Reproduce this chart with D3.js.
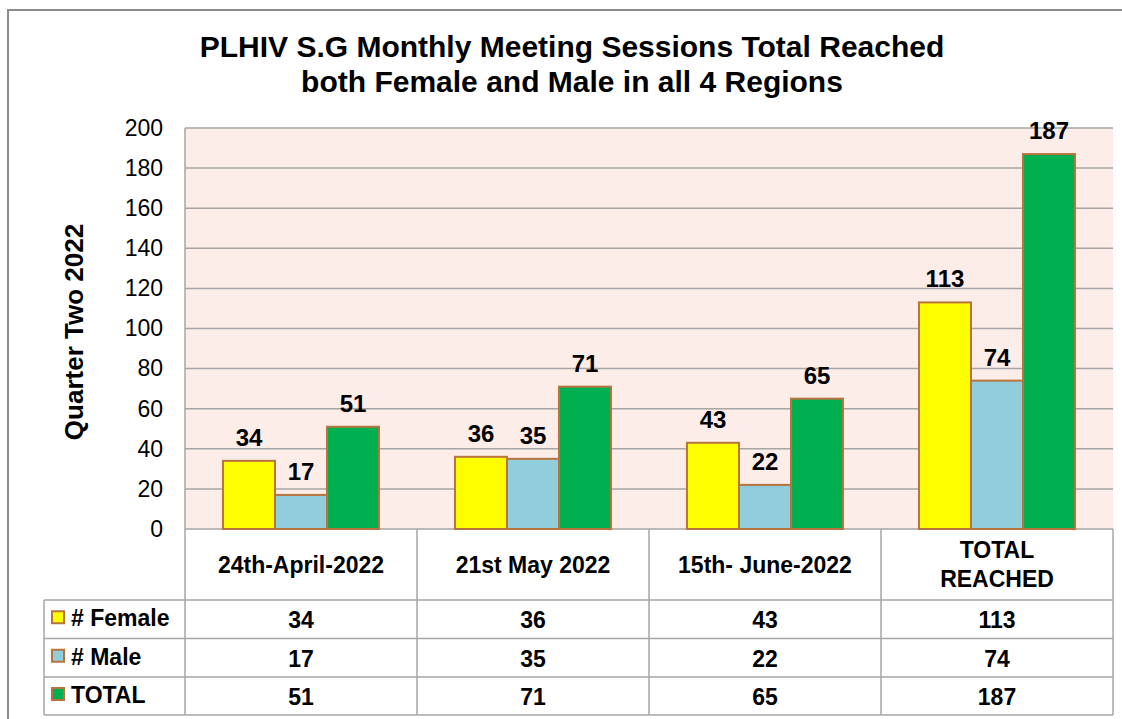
<!DOCTYPE html>
<html>
<head>
<meta charset="utf-8">
<script src="https://cdn.jsdelivr.net/npm/d3@7"></script>
<style>
  html, body { margin: 0; padding: 0; background: #ffffff; }
  svg { display: block; font-family: "Liberation Sans", Arial, sans-serif; }
</style>
</head>
<body>
<svg id="chart" width="1122" height="719"></svg>
<script>
const categories = ["24th-April-2022", "21st May 2022", "15th- June-2022", "TOTAL REACHED"];
const categoryLines = [["24th-April-2022"], ["21st May 2022"], ["15th- June-2022"], ["TOTAL", "REACHED"]];
const seriesNames = ["# Female", "# Male", "TOTAL"];
const femaleValues = [34, 36, 43, 113];
const maleValues = [17, 35, 22, 74];
const totalValues = [51, 71, 65, 187];
const yTicks = [0, 20, 40, 60, 80, 100, 120, 140, 160, 180, 200];
const titleLines = ["PLHIV S.G Monthly Meeting Sessions Total Reached", "both Female and Male in all 4 Regions"];
const yAxisTitle = "Quarter Two 2022";
const seriesColors = ["#ffff00", "#92cddc", "#00b050"];

const seriesValues = [femaleValues, maleValues, totalValues];

const svg = d3.select("#chart");
const plot = { left: 185, right: 1113, top: 128, bottom: 529 };
const tableRows = [600, 638.5, 677, 715];
const tableLeft = 44;
const gridColor = "#a6a6a6";
const barStroke = "#b9733f";

// outer frame
svg.append("path")
  .attr("d", "M8,719 L8,10 L1122,10")
  .attr("fill", "none").attr("stroke", "#8c8c8c").attr("stroke-width", 2);

// title
svg.append("g").selectAll("text").data(titleLines).join("text")
  .attr("x", 572).attr("y", (d, i) => 57 + i * 35)
  .attr("text-anchor", "middle")
  .attr("font-size", 30).attr("font-weight", "bold").attr("fill", "#000")
  .text(d => d);

const x0 = d3.scaleBand().domain(categories).range([plot.left, plot.right]).paddingInner(0).paddingOuter(0);
const x1 = d3.scaleBand().domain(seriesNames).range([0, x0.bandwidth()]).paddingInner(0).paddingOuter(0.73);
const y = d3.scaleLinear().domain([0, 200]).range([plot.bottom, plot.top]);

// plot background
svg.append("rect")
  .attr("x", plot.left).attr("y", plot.top)
  .attr("width", plot.right - plot.left).attr("height", plot.bottom - plot.top)
  .attr("fill", "#fcede8");

// gridlines
svg.append("g").selectAll("line").data(yTicks).join("line")
  .attr("x1", plot.left).attr("x2", plot.right)
  .attr("y1", d => y(d)).attr("y2", d => y(d))
  .attr("stroke", gridColor).attr("stroke-width", 1.5);

// y axis
const yAxis = d3.axisLeft(y).tickValues(yTicks).tickSize(0).tickPadding(22);
const yg = svg.append("g").attr("transform", `translate(${plot.left},0)`).call(yAxis);
yg.select(".domain").remove();
yg.selectAll("text").attr("font-size", 23).attr("font-family", "'Liberation Sans', Arial, sans-serif").attr("fill", "#000");

// y axis title
svg.append("text")
  .attr("transform", "translate(83,332) rotate(-90)")
  .attr("text-anchor", "middle")
  .attr("font-size", 26).attr("font-weight", "bold")
  .text(yAxisTitle);

// bars
const groups = svg.append("g").selectAll("g").data(categories).join("g")
  .attr("transform", d => `translate(${x0(d)},0)`);

groups.selectAll("rect")
  .data((c, ci) => seriesNames.map((s, si) => ({ s, si, v: seriesValues[si][ci] })))
  .join("rect")
  .attr("x", d => x1(d.s)).attr("width", x1.bandwidth())
  .attr("y", d => y(d.v)).attr("height", d => y(0) - y(d.v))
  .attr("fill", d => seriesColors[d.si])
  .attr("stroke", barStroke).attr("stroke-width", 2);

groups.selectAll("text.val")
  .data((c, ci) => seriesNames.map((s, si) => ({ s, si, v: seriesValues[si][ci] })))
  .join("text").attr("class", "val")
  .attr("x", d => x1(d.s) + x1.bandwidth() / 2)
  .attr("y", d => y(d.v) - 15)
  .attr("text-anchor", "middle")
  .attr("font-size", 24).attr("font-weight", "bold")
  .text(d => d.v);

// data table
const tg = svg.append("g");
const colEdges = categories.map(c => x0(c)).concat([plot.right]);
tg.selectAll("line.v").data(colEdges).join("line").attr("class", "v")
  .attr("x1", d => d).attr("x2", d => d)
  .attr("y1", (d, i) => (i === 0 ? plot.top : plot.bottom)).attr("y2", tableRows[3])
  .attr("stroke", gridColor).attr("stroke-width", 1.5);
tg.append("line")
  .attr("x1", tableLeft).attr("x2", tableLeft).attr("y1", tableRows[0]).attr("y2", tableRows[3])
  .attr("stroke", gridColor).attr("stroke-width", 1.5);
tg.selectAll("line.h").data(tableRows).join("line").attr("class", "h")
  .attr("x1", tableLeft).attr("x2", plot.right)
  .attr("y1", d => d).attr("y2", d => d)
  .attr("stroke", gridColor).attr("stroke-width", 1.5);

// header category labels
categories.forEach((c, ci) => {
  const lines = categoryLines[ci];
  const cx = x0(c) + x0.bandwidth() / 2;
  const t = tg.append("text").attr("text-anchor", "middle")
    .attr("font-size", 23).attr("font-weight", "bold");
  lines.forEach((ln, li) => {
    t.append("tspan").attr("x", cx)
      .attr("y", lines.length === 1 ? 573 : 558 + li * 29)
      .text(ln);
  });
});

// rows
seriesNames.forEach((s, si) => {
  const rowTop = tableRows[si], rowBot = tableRows[si + 1];
  const cy = (rowTop + rowBot) / 2;
  tg.append("rect")
    .attr("x", 52).attr("y", cy - 8).attr("width", 12).attr("height", 12)
    .attr("fill", seriesColors[si]).attr("stroke", barStroke).attr("stroke-width", 2);
  tg.append("text").attr("x", 71).attr("y", cy + 7)
    .attr("font-size", 23).attr("font-weight", "bold").text(s);
  categories.forEach((c, ci) => {
    tg.append("text")
      .attr("x", x0(c) + x0.bandwidth() / 2).attr("y", cy + 9)
      .attr("text-anchor", "middle")
      .attr("font-size", 23).attr("font-weight", "bold")
      .text(seriesValues[si][ci]);
  });
});
</script>
</body>
</html>
